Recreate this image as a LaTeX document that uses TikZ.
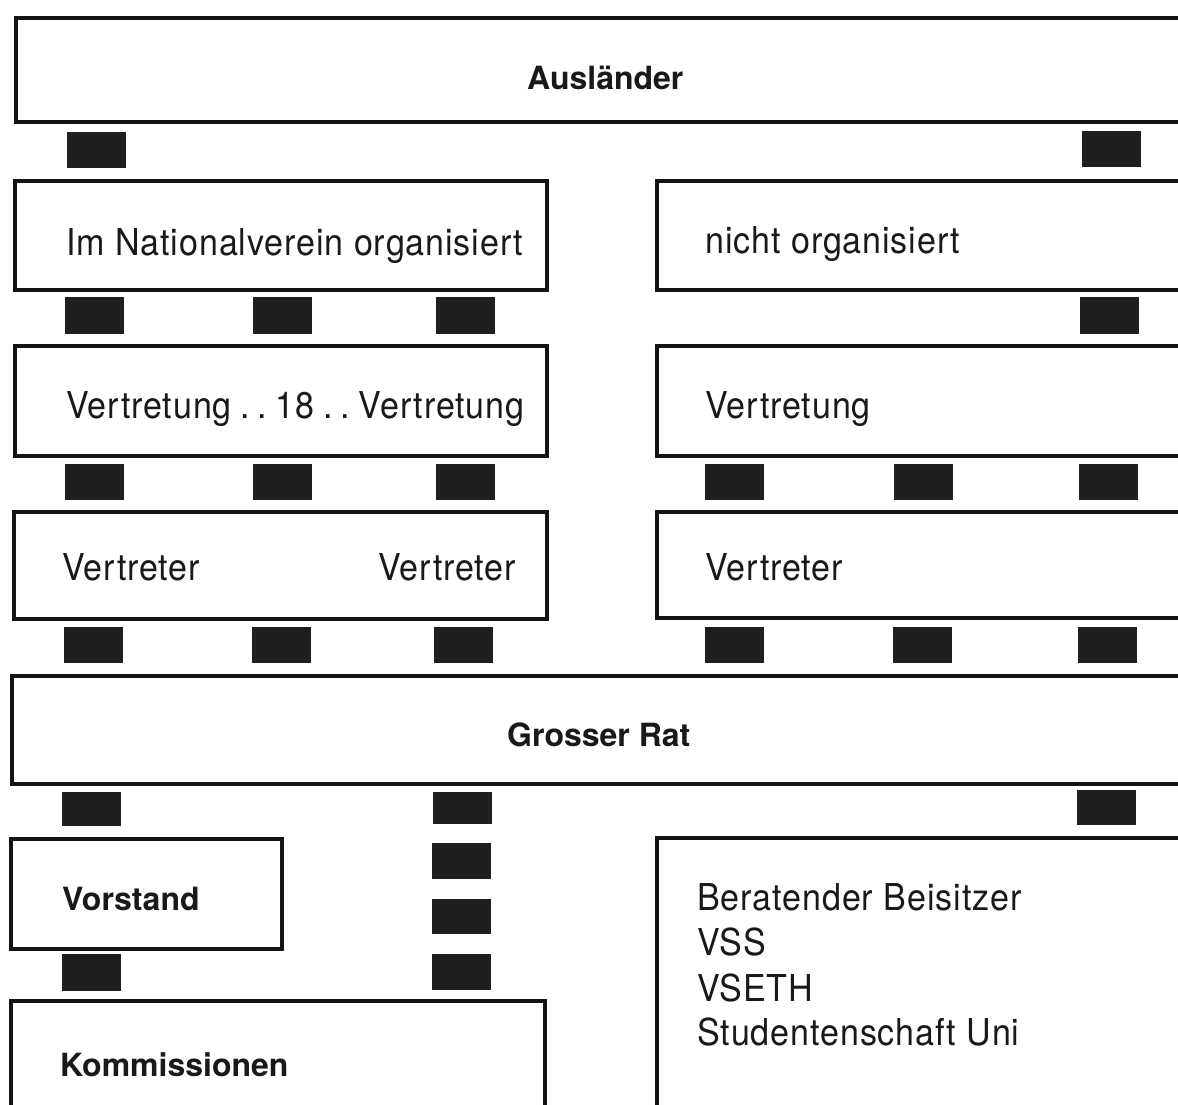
\documentclass[tikz,border=0pt]{standalone}
\usepackage{fontspec}
\setmainfont{TeX Gyre Heros}
\newfontfamily\regfont{TeX Gyre Heros}[FakeStretch=0.92, LetterSpace=2.5]
\begin{document}
\begin{tikzpicture}[x=1pt,y=-1pt,
  box/.style={draw=black!92, line width=3.5pt, rectangle, inner sep=0pt, anchor=north west},
  blk/.style={fill=black!88, draw=none, rectangle, inner sep=0pt, anchor=north west, minimum width=59pt, minimum height=36pt},
  reg/.style={anchor=base west, inner sep=0pt, text=black!90, font=\regfont\fontsize{37}{44}\selectfont},
  bld/.style={anchor=base west, inner sep=0pt, text=black!90, font=\fontsize{32}{38}\selectfont\bfseries}]
\useasboundingbox (0,0) rectangle (1178,1104);
\clip (0,0) rectangle (1178,1104);
\fill[white] (0,0) rectangle (1178,1104);
% boxes
\node[box, minimum width=1300pt, minimum height=104pt] (A) at (14,16) {};
\node[box, minimum width=532pt, minimum height=109pt] (B1) at (13,179) {};
\node[box, minimum width=700pt, minimum height=109pt] (B2) at (655,179) {};
\node[box, minimum width=532pt, minimum height=110pt] (C1) at (13,344) {};
\node[box, minimum width=700pt, minimum height=110pt] (C2) at (655,344) {};
\node[box, minimum width=533pt, minimum height=107pt] (D1) at (12,510) {};
\node[box, minimum width=700pt, minimum height=106pt] (D2) at (655,510) {};
\node[box, minimum width=1300pt, minimum height=108pt] (G) at (10,674) {};
\node[box, minimum width=271pt, minimum height=110pt] (V) at (9,837) {};
\node[box, minimum width=534pt, minimum height=200pt] (K) at (9,999) {};
\node[box, minimum width=700pt, minimum height=400pt] (R) at (655,836) {};
% blocks
\node[blk] (a1) at (67,132) {};
\node[blk] (a2) at (1082,131) {};
\node[blk, minimum height=37pt] (b1) at (65,297) {};
\node[blk, minimum height=37pt] (b2) at (253,297) {};
\node[blk, minimum height=37pt] (b3) at (436,297) {};
\node[blk, minimum height=37pt] (b4) at (1080,297) {};
\node[blk] (c1) at (65,464) {};
\node[blk] (c2) at (253,464) {};
\node[blk] (c3) at (436,464) {};
\node[blk] (c4) at (705,464) {};
\node[blk] (c5) at (894,464) {};
\node[blk] (c6) at (1079,464) {};
\node[blk] (d1) at (64,627) {};
\node[blk] (d2) at (252,627) {};
\node[blk] (d3) at (434,627) {};
\node[blk] (d4) at (705,627) {};
\node[blk] (d5) at (893,627) {};
\node[blk] (d6) at (1078,627) {};
\node[blk, minimum height=34pt] (e1) at (62,792) {};
\node[blk, minimum height=32pt] (e2) at (433,792) {};
\node[blk, minimum height=35pt] (e3) at (1077,790) {};
\node[blk] (m1) at (432,843) {};
\node[blk, minimum height=35pt] (m2) at (432,899) {};
\node[blk] (m3) at (432,954) {};
\node[blk, minimum height=37pt] (f1) at (62,954) {};
% labels
\node[bld] (tA) at (527,89) {Ausländer};
\node[reg] (tB1) at (66,255) {Im Nationalverein organisiert};
\node[reg] (tB2) at (705,253) {nicht organisiert};
\node[reg] (tC1) at (66,418) {Vertretung\hspace{0.24em}.\hspace{0.2em}.\hspace{0.24em}18\hspace{0.24em}.\hspace{0.2em}.\hspace{0.24em}Vertretung};
\node[reg] (tC2) at (705,418) {Vertretung};
\node[reg] (tD1) at (62,580) {Vertreter};
\node[reg] (tD1b) at (378,580) {Vertreter};
\node[reg] (tD2) at (705,580) {Vertreter};
\node[bld] (tG) at (507,746) {Grosser Rat};
\node[bld] (tV) at (62,910) {Vorstand};
\node[bld] (tK) at (60,1076) {Kommissionen};
\node[reg] (tR1) at (697,910) {Beratender Beisitzer};
\node[reg] (tR2) at (697,955) {VSS};
\node[reg] (tR3) at (697,1001) {VSETH};
\node[reg] (tR4) at (697,1045) {Studentenschaft Uni};
\end{tikzpicture}
\end{document}
